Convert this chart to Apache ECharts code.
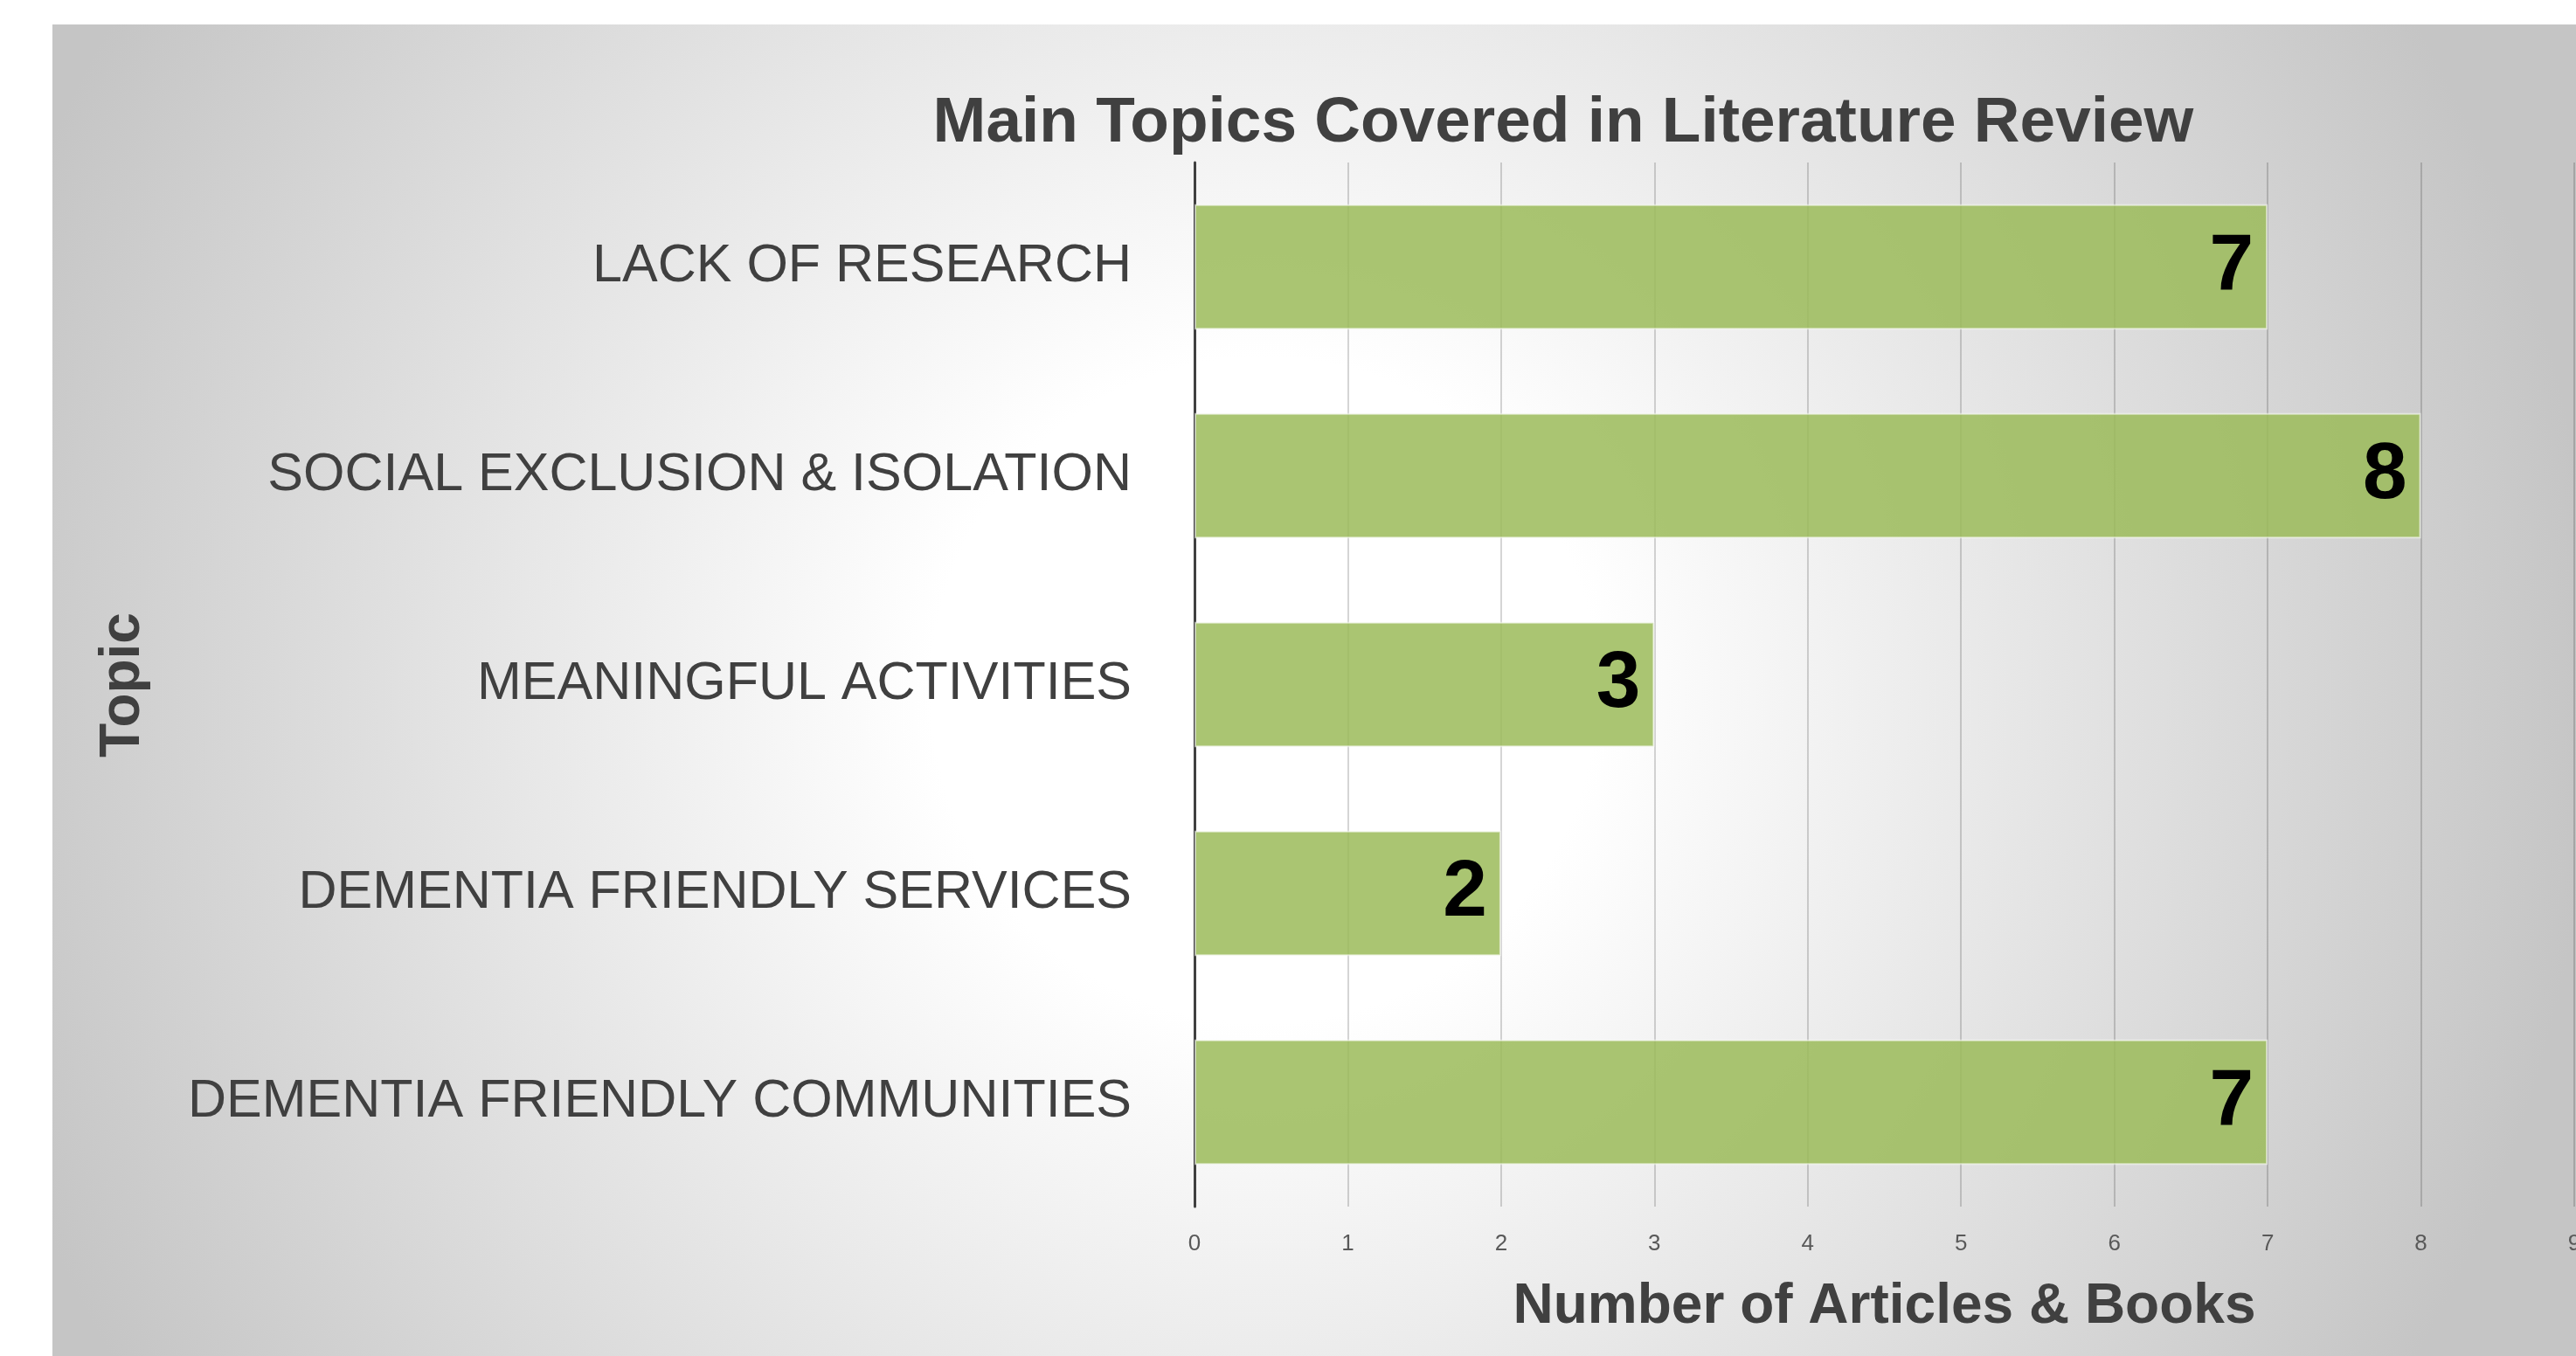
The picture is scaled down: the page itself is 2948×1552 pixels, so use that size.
<!DOCTYPE html>
<html>
<head>
<meta charset="utf-8">
<script src="https://cdn.jsdelivr.net/npm/echarts@6/dist/echarts.min.js"></script>
<style>
  html, body { margin: 0; padding: 0; background: #fff; }
  #chart { width: 2948px; height: 1552px; }
</style>
</head>
<body>
<div id="chart"></div>
<script>
const topics = [
  'LACK OF RESEARCH',
  'SOCIAL EXCLUSION & ISOLATION',
  'MEANINGFUL ACTIVITIES',
  'DEMENTIA FRIENDLY SERVICES',
  'DEMENTIA FRIENDLY COMMUNITIES'
]
const counts = [7, 8, 3, 2, 7]
const xTicks = [0, 1, 2, 3, 4, 5, 6, 7, 8, 9]

const font = '"Liberation Sans", Arial, sans-serif'

const chart = echarts.init(document.getElementById('chart'))

chart.setOption({
  animation: false,
  graphic: [
    {
      type: 'rect',
      z: -10,
      shape: { x: 60, y: 28, width: 2888, height: 1524 },
      style: {
        fill: {
          type: 'radial', x: 0.48, y: 0.5, r: 1,
          colorStops: [
            { offset: 0, color: '#ffffff' },
            { offset: 0.25, color: '#ffffff' },
            { offset: 1, color: '#c5c5c5' }
          ]
        }
      }
    },
    {
      type: 'text',
      x: 141,
      y: 784,
      rotation: Math.PI / 2,
      style: {
        text: 'Topic',
        font: 'bold 64px ' + font,
        fill: '#404040',
        textAlign: 'center',
        textVerticalAlign: 'middle'
      }
    }
  ],
  title: {
    text: 'Main Topics Covered in Literature Review',
    left: 1784,
    top: 100,
    textAlign: 'center',
    textStyle: { fontFamily: font, fontSize: 73, fontWeight: 'bold', color: '#404040' }
  },
  grid: { left: 1367, right: 2, top: 186, bottom: 171, containLabel: false, outerBoundsMode: 'none' },
  xAxis: {
    type: 'value',
    min: xTicks[0],
    max: xTicks[xTicks.length - 1],
    interval: 1,
    name: 'Number of Articles & Books',
    nameLocation: 'middle',
    nameGap: 83,
    nameTextStyle: { fontFamily: font, fontSize: 64, fontWeight: 'bold', color: '#404040' },
    axisLine: { show: false },
    axisTick: { show: false },
    axisLabel: { fontFamily: font, fontSize: 26, color: '#595959', margin: 30 },
    splitLine: { show: true, lineStyle: { color: 'rgba(0,0,0,0.22)', width: 1.5 } }
  },
  yAxis: {
    type: 'category',
    inverse: true,
    data: topics,
    axisLine: { show: true, lineStyle: { color: '#404040', width: 3 } },
    axisTick: { show: false },
    axisLabel: { fontFamily: font, fontSize: 61, color: '#404040', margin: 72 },
    splitLine: { show: false }
  },
  series: [{
    type: 'bar',
    data: counts,
    barCategoryGap: '40%',
    itemStyle: {
      color: 'rgba(155,187,89,0.85)',
      borderColor: 'rgba(255,255,255,0.55)',
      borderWidth: 2
    },
    label: {
      show: true,
      position: 'insideRight',
      distance: 16,
      fontFamily: font,
      fontSize: 91,
      fontWeight: 'bold',
      color: '#000'
    }
  }]
})
</script>
</body>
</html>
